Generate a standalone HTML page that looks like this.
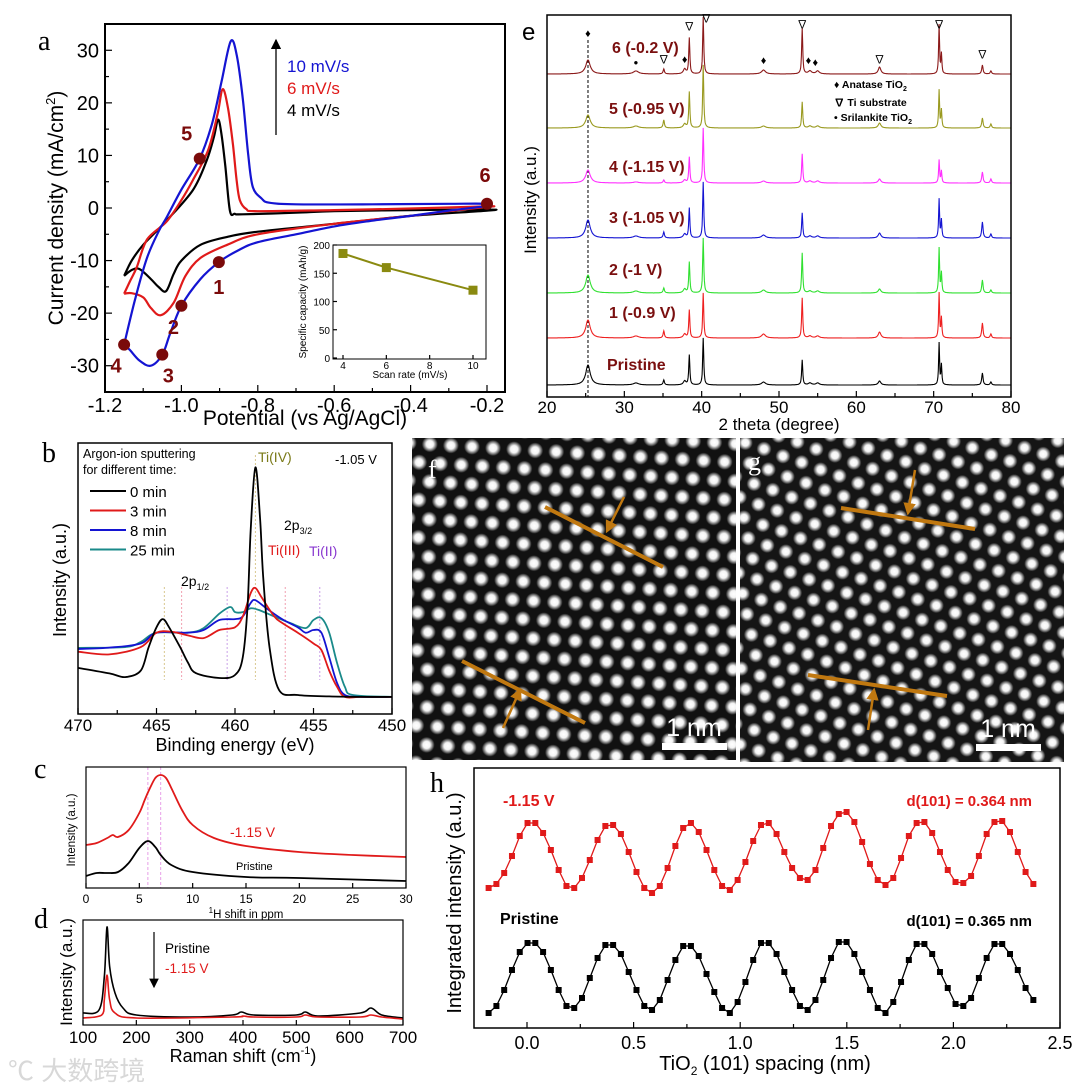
<!DOCTYPE html>
<html><head><meta charset="utf-8"><style>
html,body{margin:0;padding:0;background:#fff;}
svg{display:block;font-family:"Liberation Sans","Noto Sans CJK SC",sans-serif;}
.serif{font-family:"Liberation Serif",serif;}
</style></head><body>
<svg id="fig" width="1080" height="1086" viewBox="0 0 1080 1086" xmlns="http://www.w3.org/2000/svg">
<defs>
<radialGradient id="dot"><stop offset="0" stop-color="#fff"/><stop offset="0.45" stop-color="#f4f4f4"/><stop offset="1" stop-color="#fff" stop-opacity="0"/></radialGradient>
<pattern id="latF" width="36" height="22" patternUnits="userSpaceOnUse" patternTransform="rotate(-28)">
<rect width="36" height="22" fill="#111"/>
<circle cx="9" cy="11" r="8" fill="url(#dot)"/><circle cx="27" cy="0" r="8" fill="url(#dot)"/><circle cx="27" cy="22" r="8" fill="url(#dot)"/>
</pattern>
<pattern id="latG" width="34" height="21" patternUnits="userSpaceOnUse" patternTransform="rotate(-12)">
<rect width="34" height="21" fill="#151515"/>
<circle cx="8" cy="10" r="7.5" fill="url(#dot)"/><circle cx="25" cy="0" r="7.5" fill="url(#dot)"/><circle cx="25" cy="21" r="7.5" fill="url(#dot)"/>
</pattern>
<marker id="ah" markerWidth="8" markerHeight="8" refX="7" refY="4" orient="auto"><path d="M0,0 L8,4 L0,8 z" fill="#000"/></marker>
<marker id="ahO" markerWidth="5" markerHeight="5" refX="4" refY="2.5" orient="auto"><path d="M0,0 L5,2.5 L0,5 z" fill="#c07810"/></marker>
</defs>

<!-- panel f -->
<g>
<rect x="412" y="438" width="324" height="322" fill="url(#latF)"/>
<text x="428" y="478" class="serif" font-size="26" fill="#fff">f</text>
<line x1="545" y1="507" x2="663" y2="567" stroke="#c07810" stroke-width="4"/>
<line x1="624" y1="497" x2="607" y2="531" stroke="#c07810" stroke-width="2.5" marker-end="url(#ahO)"/>
<line x1="462" y1="661" x2="585" y2="723" stroke="#c07810" stroke-width="4"/>
<line x1="503" y1="728" x2="520" y2="690" stroke="#c07810" stroke-width="2.5" marker-end="url(#ahO)"/>
<rect x="662" y="743" width="65" height="7" fill="#fff"/>
<text x="694" y="736" font-size="25" fill="#fff" text-anchor="middle">1 nm</text>
</g>
<!-- panel g -->
<g>
<rect x="740" y="438" width="324" height="324" fill="url(#latG)"/>
<text x="748" y="470" class="serif" font-size="26" fill="#fff">g</text>
<line x1="841" y1="508" x2="975" y2="529" stroke="#c07810" stroke-width="4"/>
<line x1="915" y1="470" x2="908" y2="513" stroke="#c07810" stroke-width="2.5" marker-end="url(#ahO)"/>
<line x1="808" y1="675" x2="947" y2="696" stroke="#c07810" stroke-width="4"/>
<line x1="868" y1="730" x2="874" y2="690" stroke="#c07810" stroke-width="2.5" marker-end="url(#ahO)"/>
<rect x="976" y="744" width="65" height="7" fill="#fff"/>
<text x="1008" y="737" font-size="25" fill="#fff" text-anchor="middle">1 nm</text>
</g>

<!-- static labels -->
<text x="38" y="50" class="serif" font-size="28">a</text>
<text x="42" y="462" class="serif" font-size="28">b</text>
<text x="34" y="778" class="serif" font-size="28">c</text>
<text x="34" y="928" class="serif" font-size="28">d</text>
<text x="522" y="40" font-size="24">e</text>
<text x="430" y="792" class="serif" font-size="28">h</text>

<text x="287" y="72" font-size="17" fill="#1414d2">10 mV/s</text>
<text x="287" y="94" font-size="17" fill="#e01a1a">6 mV/s</text>
<text x="287" y="116" font-size="17" fill="#000">4 mV/s</text>
<line x1="276" y1="135" x2="276" y2="40" stroke="#000" stroke-width="1.3" marker-end="url(#ah)"/>
<text x="63" y="208" font-size="21" text-anchor="middle" transform="rotate(-90 63 208)">Current density (mA/cm<tspan font-size="13" dy="-8">2</tspan><tspan dy="8">)</tspan></text>
<text x="305" y="425" font-size="21" text-anchor="middle">Potential (vs Ag/AgCl)</text>
<text x="306" y="302" font-size="10" text-anchor="middle" transform="rotate(-90 306 302)">Specific capacity (mAh/g)</text>
<text x="410" y="378" font-size="10" text-anchor="middle">Scan rate (mV/s)</text>

<text x="83" y="458" font-size="12.5">Argon-ion sputtering</text>
<text x="83" y="474" font-size="12.5">for different time:</text>
<text x="335" y="464" font-size="13">-1.05 V</text>
<text x="258" y="462" font-size="14" fill="#7a7a18">Ti(IV)</text>
<text x="284" y="530" font-size="14">2p<tspan font-size="9" dy="4">3/2</tspan></text>
<text x="268" y="555" font-size="14" fill="#e01a1a">Ti(III)</text>
<text x="309" y="556" font-size="14" fill="#8a3ad0">Ti(II)</text>
<text x="181" y="586" font-size="14">2p<tspan font-size="9" dy="4">1/2</tspan></text>
<text x="66" y="580" font-size="18" text-anchor="middle" transform="rotate(-90 66 580)">Intensity (a.u.)</text>
<text x="235" y="751" font-size="18" text-anchor="middle">Binding energy (eV)</text>

<text x="230" y="837" font-size="14" fill="#e01a1a">-1.15 V</text>
<text x="236" y="870" font-size="11">Pristine</text>
<text x="75" y="830" font-size="11.5" text-anchor="middle" transform="rotate(-90 75 830)">Intensity (a.u.)</text>
<text x="246" y="918" font-size="11.5" text-anchor="middle"><tspan font-size="8" dy="-5">1</tspan><tspan dy="5">H shift in ppm</tspan></text>

<text x="165" y="953" font-size="13.5">Pristine</text>
<text x="165" y="973" font-size="13.5" fill="#e01a1a">-1.15 V</text>
<line x1="154" y1="932" x2="154" y2="987" stroke="#000" stroke-width="1.2" marker-end="url(#ah)"/>
<text x="72" y="972" font-size="17" text-anchor="middle" transform="rotate(-90 72 972)">Intensity (a.u.)</text>
<text x="243" y="1062" font-size="18" text-anchor="middle">Raman shift (cm<tspan font-size="11" dy="-8">-1</tspan><tspan dy="8">)</tspan></text>

<text x="536" y="200" font-size="17" text-anchor="middle" transform="rotate(-90 536 200)">Intensity (a.u.)</text>
<text x="779" y="430" font-size="17" text-anchor="middle">2 theta (degree)</text>
<text x="834" y="88" font-size="10.5" font-weight="bold">♦ Anatase TiO<tspan font-size="7" dy="3">2</tspan></text>
<text x="834" y="106" font-size="10.5" font-weight="bold">∇ Ti substrate</text>
<text x="834" y="121" font-size="10.5" font-weight="bold">• Srilankite TiO<tspan font-size="7" dy="3">2</tspan></text>

<text x="503" y="806" font-size="16" font-weight="bold" fill="#e01a1a">-1.15 V</text>
<text x="500" y="924" font-size="16" font-weight="bold">Pristine</text>
<text x="1032" y="806" font-size="15" font-weight="bold" fill="#e01a1a" text-anchor="end">d(101) = 0.364 nm</text>
<text x="1032" y="926" font-size="15" font-weight="bold" text-anchor="end">d(101) = 0.365 nm</text>
<text x="461" y="903" font-size="20" text-anchor="middle" transform="rotate(-90 461 903)">Integrated intensity (a.u.)</text>
<text x="765" y="1070" font-size="20" text-anchor="middle">TiO<tspan font-size="12" dy="5">2</tspan><tspan dy="-5"> (101) spacing (nm)</tspan></text>

<text x="8" y="1080" font-size="26" fill="#d8d8d8">℃ 大数跨境</text>
</svg>
<script>
// ---------- DATA ----------
// panel a (potential V, current mA/cm2)
const cv10V=[-1.15,-1.12,-1.09,-1.06,-1.038,-1.0,-0.952,-0.92,-0.895,-0.871,-0.855,-0.839,-0.825,-0.813,-0.79,-0.77,-0.7,-0.5,-0.3,-0.2,-0.2,-0.3,-0.4,-0.5,-0.6,-0.7,-0.8,-0.85,-0.902,-0.95,-1.0,-1.03,-1.05,-1.08,-1.11,-1.135,-1.15];
const cv10I=[-26,-17,-9.5,-4.5,-1.7,3.5,9.4,16,24,31.7,29,20.6,10,4,1.8,1.0,0.7,0.7,0.8,0.8,0.4,-0.5,-1.5,-2.4,-3.5,-5,-6.5,-8,-10.3,-13.5,-18.6,-24,-27.9,-30,-29,-27,-26];
const cv6V=[-1.15,-1.135,-1.117,-1.09,-1.039,-1.0,-0.97,-0.93,-0.905,-0.892,-0.878,-0.865,-0.855,-0.847,-0.83,-0.8,-0.6,-0.4,-0.2,-0.2,-0.3,-0.4,-0.6,-0.8,-0.88,-0.95,-0.99,-1.02,-1.054,-1.08,-1.1,-1.13,-1.15];
const cv6I=[-16.3,-14,-11.3,-6,-2.6,1.5,5.3,11,18,22.6,19,12,5,1.5,-0.2,-0.6,-0.4,-0.1,0.3,0.2,-0.6,-1.5,-3,-5,-7,-9.5,-13,-18,-20.4,-19,-17,-16.2,-16.3];
const cv4V=[-1.15,-1.13,-1.1,-1.04,-0.97,-0.934,-0.915,-0.904,-0.895,-0.885,-0.873,-0.86,-0.84,-0.7,-0.6,-0.4,-0.2,-0.2,-0.4,-0.6,-0.8,-0.88,-0.95,-1.0,-1.02,-1.04,-1.06,-1.08,-1.11,-1.13,-1.15];
const cv4I=[-12.9,-10,-7,-2.5,3.4,9,13.5,16.8,14,8,-0.5,-1.1,-1.2,-0.9,-0.6,-0.4,-0.3,-0.5,-1.5,-3,-4.5,-5.5,-7,-10,-12.5,-15.8,-15,-13.5,-11.6,-11.8,-12.9];
const cvPointLabels=['1','2','3','4','5','6'];
const cvPointV=[-0.902,-1.0,-1.05,-1.15,-0.952,-0.2];
const cvPointI=[-10.3,-18.6,-27.9,-26,9.4,0.8];
const aTicksX=[-1.2,-1.0,-0.8,-0.6,-0.4,-0.2];
const aTicksY=[-30,-20,-10,0,10,20,30];
// inset
const insetRate=[4,6,10];
const insetCap=[185,160,120];
const insetTicksX=[4,6,8,10];
const insetTicksY=[0,50,100,150,200];
// panel b (binding energy eV, intensity)
const xpsE0=[470,468,467,466,465.5,465,464.6,464.2,463.5,463,462.5,461,460,459.5,459.2,459,458.7,458.4,458.2,457.8,457.2,456,454,452,450];
const xps0=[17,15,13.6,16,24.7,32,35,32,24.7,19,15.1,13.3,14.4,21,40,68,91,72,50,24.7,8.9,7,6.5,6.3,6.3];
const xpsE3=[470,468,466,465,464,463,462,461,460,459.5,459,458.7,458.3,457.5,457,456,455,454.5,454,453.5,453,452,450];
const xps3=[23,22,24.7,30,30.3,29,28,31,32,36,44.6,46.5,43,36,33.6,30,26,23.6,16,10,6.3,6.3,6.3];
const xpsE8=[470,468,466,465,463,462,461,460,459.5,459,458.7,458,457,456,455.5,455,454.5,454,453.5,453,452,450];
const xps8=[24,24.5,26,30,30,31,34.7,35,36,41,42,39,35,32,30,31,30,21,11.4,7,6.3,6.3];
const xpsE25=[470,467,466,465,463,462,461,460.3,460,459.5,459,458.5,457.5,456.5,455.5,455,454.5,454,453.5,453,452.5,450];
const xps25=[24.4,24.7,26.6,30,30,31.7,37,39.5,37.6,37.6,39,38.4,36,33.6,31.7,34.7,35.4,30,18.8,10,7,6.3];
const bTicks=[470,465,460,455,450];
const bLegend=['0 min','3 min','8 min','25 min'];
const bRefE=[464.5,463.4,460.5,458.7,456.8,454.6];
// panel c (ppm, intensity)
const nmrX=[0,1,2,2.5,3,4,5,5.5,6,6.5,7,7.5,8,9,10,12,15,20,25,30];
const nmrRed=[43,45,50,53,51,58,75,88,100,110,113,110,100,78,63,50,42,36,33,31];
const nmrXB=[0,1,2,3,4,5,5.8,6.5,7,8,10,15,20,30];
const nmrBlack=[12,15,15,16,25,40,47,41,33,23,16,11,10,7];
const cTicks=[0,5,10,15,20,25,30];
// panel d (Raman cm-1, intensity)
const ramXB=[100,130,140,145,150,160,175,200,300,380,397,420,500,517,540,620,640,660,700];
const ramBlack=[12,15,48,98,58,32,17,10,8,10,13,10,10,13,9,12,17,10,7];
const ramXR=[100,135,140,145,150,160,200,380,400,420,500,517,540,620,640,660,700];
const ramRed=[7,10,25,50,25,12,7,8,9,8,8,10,8,8,10,8,6];
const dTicks=[100,200,300,400,500,600,700];
// panel e (XRD)
const xrdPeakPos=[25.3,31.5,35.1,37.8,38.4,40.2,48.0,53.0,54.0,55.0,63.0,70.7,71.0,76.3,77.4];
const xrdPristine=[20,2,5,4,30,47,3,25,2,2,4,42,20,12,3];
const xrd1=[18,2,7,4,28,45,4,40,2,2,6,45,20,15,4];
const xrd2=[18,2,5,4,31,55,3,40,2,2,4,45,20,13,3];
const xrd3=[18,2,6,4,30,56,3,25,2,2,5,39,18,16,4];
const xrd4=[13,1,3,3,26,55,2,29,2,2,4,23,12,11,4];
const xrd5=[13,2,8,4,36,63,2,26,2,2,5,38,18,10,4];
const xrd6=[14,3,5,5,36,57,4,46,3,3,7,49,20,9,3];
const xrdOffsets=[12,59,104,159,214,269,323];
const xrdLabels=['Pristine','1 (-0.9 V)','2 (-1 V)','3 (-1.05 V)','4 (-1.15 V)','5 (-0.95 V)','6 (-0.2 V)'];
const eTicks=[20,30,40,50,60,70,80];
const eMarkPos=[25.3,31.5,35.1,37.8,38.4,40.6,48,53,53.8,54.7,63,70.7,76.3];
const eMarkSym=['♦','●','∇','♦','∇','∇','♦','∇','♦','♦','∇','∇','∇'];
const eMarkH=[360,332,334,334,367,375,333,369,333,331,334,369,339];
// panel h
const hRed=[140,144,155,172,192,205,205,195,178,158, 142,140,150,168,188,202,203,194,176,156, 140,135,142,160,182,200,205,196,178,158, 142,138,148,166,187,203,205,194,176,160, 150,148,158,180,202,214,216,206,186,164, 148,143,150,170,192,205,206,195,176,158, 146,145,152,172,194,206,207,196,176,156, 144];
const hBlack=[15,22,38,58,76,85,85,76,58,38, 22,20,30,50,70,83,83,74,56,38, 22,18,28,48,68,82,82,72,54,36, 20,15,26,46,68,85,85,74,56,38, 22,18,28,48,70,86,86,74,56,38, 20,15,26,46,68,84,84,74,56,40, 24,22,30,50,70,84,84,74,58,40, 28];
const hStart=-0.18, hStep=0.0365;
const hTicks=[0.0,0.5,1.0,1.5,2.0,2.5];

// ---------- HELPERS ----------
const NS='http://www.w3.org/2000/svg';
const fig=document.getElementById('fig');
function mk(tag,attrs,parent){const e=document.createElementNS(NS,tag);for(const k in attrs)e.setAttribute(k,attrs[k]);(parent||fig).appendChild(e);return e;}
function lin(d0,d1,r0,r1){return v=>r0+(v-d0)*(r1-r0)/(d1-d0);}
function smooth(pts){let d='M'+pts[0][0].toFixed(1)+','+pts[0][1].toFixed(1);for(let i=0;i<pts.length-1;i++){const p0=pts[Math.max(0,i-1)],p1=pts[i],p2=pts[i+1],p3=pts[Math.min(pts.length-1,i+2)];const c1=[p1[0]+(p2[0]-p0[0])/6,p1[1]+(p2[1]-p0[1])/6],c2=[p2[0]-(p3[0]-p1[0])/6,p2[1]-(p3[1]-p1[1])/6];d+=' C'+c1[0].toFixed(1)+','+c1[1].toFixed(1)+' '+c2[0].toFixed(1)+','+c2[1].toFixed(1)+' '+p2[0].toFixed(1)+','+p2[1].toFixed(1);}return d;}
function poly(pts){return 'M'+pts.map(p=>p[0].toFixed(1)+','+p[1].toFixed(1)).join(' L');}
function frame(x,y,w,h,name,sw){const r=mk('rect',{x:x,y:y,width:w,height:h,fill:'none',stroke:'#000','stroke-width':sw||1.5});
return r;}
function txt(x,y,s,size,anchor,name,color){const t=mk('text',{x:x,y:y,'font-size':size,'text-anchor':anchor||'middle',fill:color||'#000'});t.textContent=s;
return t;}
function tick(x1,y1,x2,y2,name){const l=mk('line',{x1:x1,y1:y1,x2:x2,y2:y2,stroke:'#000','stroke-width':1.2});
return l;}

// ---------- PANEL A ----------
const ax=lin(-1.2,-0.2,105,487), ay=lin(-35,35,392,24);
const gA=mk('g',{});

[[cv4V,cv4I,'#000','cv-curve-4mvs'],[cv6V,cv6I,'#e01a1a','cv-curve-6mvs'],[cv10V,cv10I,'#1414d2','cv-curve-10mvs']].forEach(s=>{
 const p=mk('path',{d:smooth(s[0].map((v,i)=>[ax(v),ay(s[1][i])])),fill:'none',stroke:s[2],'stroke-width':2.2},gA);
 
 
});
cvPointV.forEach((v,i)=>{
 const c=mk('circle',{cx:ax(v),cy:ay(cvPointI[i]),r:6,fill:'#7a0a0a'},gA);
 
 
});
const lblOff=[[0,32],[-8,28],[6,28],[-8,28],[-13,-18],[-2,-22]];
cvPointV.forEach((v,i)=>{
 const t=mk('text',{x:ax(v)+lblOff[i][0],y:ay(cvPointI[i])+lblOff[i][1],'font-size':20,'font-weight':'bold',fill:'#7a0a0a','text-anchor':'middle'},gA);
 t.textContent=cvPointLabels[i];
 
 
});
frame(105,24,400,368,'a-plot-frame',2);
aTicksX.forEach(v=>{tick(ax(v),392,ax(v),385,'a-x-tick');txt(ax(v),412,v.toFixed(1),20,'middle','a-x-tick-label');});
for(let v=-1.1;v<-0.15;v+=0.2){tick(ax(v),392,ax(v),388,'a-x-minor-tick');}
aTicksY.forEach(v=>{tick(105,ay(v),112,ay(v),'a-y-tick');txt(99,ay(v)+7,String(v),20,'end','a-y-tick-label');});
for(let v=-35;v<=35;v+=10){tick(105,ay(v),109,ay(v),'a-y-minor-tick');}
// inset
const ix=lin(4,10,343,473), iy=lin(0,200,358,245);
const inF=mk('rect',{x:333,y:245,width:153,height:114,fill:'#fff',stroke:'#000','stroke-width':1});


const il=mk('path',{d:poly(insetRate.map((r,i)=>[ix(r),iy(insetCap[i])])),fill:'none',stroke:'#8a8a10','stroke-width':2});


insetRate.forEach((r,i)=>{const s=mk('rect',{x:ix(r)-4.5,y:iy(insetCap[i])-4.5,width:9,height:9,fill:'#8a8a10'});
 
 });
insetTicksX.forEach(v=>{tick(ix(v),359,ix(v),355,'inset-x-tick');txt(ix(v),369,String(v),10,'middle','inset-x-tick-label');});
insetTicksY.forEach(v=>{tick(333,iy(v),337,iy(v),'inset-y-tick');txt(330,iy(v)+4,String(v),10,'end','inset-y-tick-label');});

// ---------- PANEL B ----------
const bx=lin(470,450,78,392), by=lin(0,100,714,443);
bRefE.forEach((e,i)=>{const cols=['#d8c890','#f0a0b0','#c8a0e8','#d8c890','#f0a0b0','#c8a0e8'];
 const l=mk('line',{x1:bx(e),y1:i==3?455:587,x2:bx(e),y2:680,stroke:cols[i],'stroke-width':1,'stroke-dasharray':'2,2'});
 
 });
[[xpsE25,xps25,'#1a8a8a','xps-25min'],[xpsE8,xps8,'#1414d2','xps-8min'],[xpsE3,xps3,'#e01a1a','xps-3min'],[xpsE0,xps0,'#000','xps-0min']].forEach(s=>{
 const p=mk('path',{d:smooth(s[0].map((e,i)=>[bx(e),by(s[1][i])])),fill:'none',stroke:s[2],'stroke-width':1.8});
 
 
});
const bCols=['#000','#e01a1a','#1414d2','#1a8a8a'];
bLegend.forEach((s,i)=>{const y=491+i*19.5;
 const l=mk('line',{x1:90,y1:y,x2:126,y2:y,stroke:bCols[i],'stroke-width':2});
 
 
 txt(130,y+6,s,15,'start','b-legend-label');});
frame(78,443,314,271,'b-plot-frame',1.5);
bTicks.forEach(v=>{tick(bx(v),714,bx(v),708,'b-x-tick');txt(bx(v),731,String(v),17,'middle','b-x-tick-label');});
for(let v=467.5;v>450;v-=5){tick(bx(v),714,bx(v),710,'b-x-minor-tick');}

// ---------- PANEL C ----------
const cx=lin(0,30,86,406), cy=lin(0,121,888,767);
[5.8,7].forEach(v=>{const l=mk('line',{x1:cx(v),y1:767,x2:cx(v),y2:888,stroke:'#e8a0e8','stroke-width':1,'stroke-dasharray':'3,2'});
 
 });
const cr=mk('path',{d:smooth(nmrX.map((v,i)=>[cx(v),cy(nmrRed[i])])),fill:'none',stroke:'#e01a1a','stroke-width':1.8});


const cb=mk('path',{d:smooth(nmrXB.map((v,i)=>[cx(v),cy(nmrBlack[i])])),fill:'none',stroke:'#000','stroke-width':1.8});


frame(86,767,320,121,'c-plot-frame',1.2);
cTicks.forEach(v=>{tick(cx(v),888,cx(v),883,'c-x-tick');txt(cx(v),903,String(v),12,'middle','c-x-tick-label');});

// ---------- PANEL D ----------
const dx=lin(100,700,83,403), dy=lin(0,105,1025,920);
const db=mk('path',{d:smooth(ramXB.map((v,i)=>[dx(v),dy(ramBlack[i])])),fill:'none',stroke:'#000','stroke-width':1.6});


const dr=mk('path',{d:smooth(ramXR.map((v,i)=>[dx(v),dy(ramRed[i])])),fill:'none',stroke:'#e01a1a','stroke-width':1.6});


frame(83,920,320,105,'d-plot-frame',1.2);
dTicks.forEach(v=>{tick(dx(v),1025,dx(v),1020,'d-x-tick');txt(dx(v),1043,String(v),17,'middle','d-x-tick-label');});

// ---------- PANEL E ----------
const ex=lin(20,80,547,1011), ey=lin(0,382,397,15);
const eWidths=[0.35,0.4,0.1,0.2,0.08,0.08,0.3,0.08,0.25,0.25,0.2,0.07,0.07,0.1,0.1];
const eCols=['#000','#ee2020','#30e030','#1414d2','#ff30ff','#9a9a20','#8b1a1a'];
const eNames=['xrd-pristine','xrd-1','xrd-2','xrd-3','xrd-4','xrd-5','xrd-6'];
const dl=mk('line',{x1:ex(25.3),y1:40,x2:ex(25.3),y2:397,stroke:'#000','stroke-width':1,'stroke-dasharray':'3,2'});


[xrdPristine,xrd1,xrd2,xrd3,xrd4,xrd5,xrd6].forEach((hs,s)=>{
 const pts=[];
 for(let t=20;t<=80.001;t+=0.05){let v=xrdOffsets[s];
  xrdPeakPos.forEach((p,k)=>{const w=eWidths[k];v+=hs[k]*w*w/((t-p)*(t-p)+w*w);});
  pts.push([ex(t),ey(v)]);}
 const p=mk('path',{d:poly(pts),fill:'none',stroke:eCols[s],'stroke-width':1.1});
 
 
});
const eLblY=[370,318,275,223,172,114,53];
xrdLabels.forEach((s,i)=>{const t=txt(i==0?607:(i==6?612:609),eLblY[i],s,16,'start','xrd-series-label','#7a0f0f');t.setAttribute('font-weight','bold');});
eMarkPos.forEach((p,i)=>{txt(ex(p),ey(eMarkH[i]),eMarkSym[i],eMarkSym[i]=='●'?8:11,'middle','xrd-phase-marker');});
frame(547,15,464,382,'e-plot-frame',1.5);
eTicks.forEach(v=>{tick(ex(v),397,ex(v),391,'e-x-tick');txt(ex(v),413,String(v),17,'middle','e-x-tick-label');});
for(let v=25;v<80;v+=10){tick(ex(v),397,ex(v),393,'e-x-minor-tick');}

// ---------- PANEL H ----------
const hx=lin(0,2.5,527,1060), hy=lin(0,260,1028,768);
[[hRed,'#e01a1a','h-115v'],[hBlack,'#000','h-pristine']].forEach(s=>{
 const pts=s[0].map((v,i)=>[hx(hStart+i*hStep),hy(v)]);
 const p=mk('path',{d:poly(pts),fill:'none',stroke:s[1],'stroke-width':1.3});
 
 
 pts.forEach(q=>{const m=mk('rect',{x:q[0]-3,y:q[1]-3,width:6,height:6,fill:s[1]});
  
  });
});
frame(474,768,586,260,'h-plot-frame',1.5);
hTicks.forEach(v=>{tick(hx(v),1028,hx(v),1022,'h-x-tick');txt(hx(v),1049,v.toFixed(1),18,'middle','h-x-tick-label');});
for(let v=0.25;v<2.5;v+=0.5){tick(hx(v),1028,hx(v),1024,'h-x-minor-tick');}
</script>
</body></html>
